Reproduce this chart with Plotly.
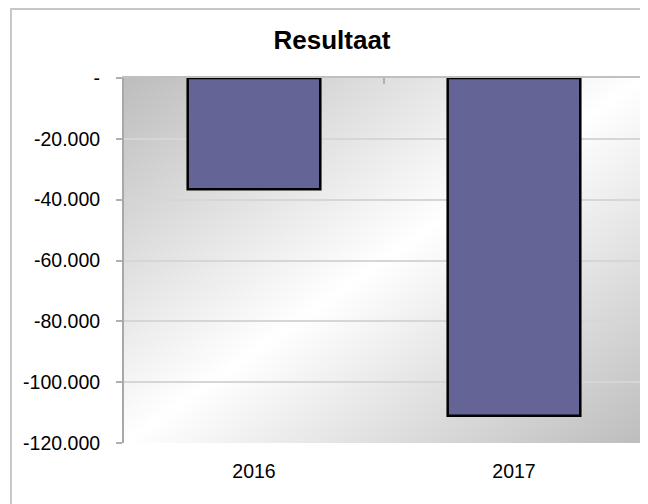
import base64
import plotly.graph_objects as go

categories = ["2016", "2017"]
resultaat = [-36600, -111000]
tick_values = [0, -20000, -40000, -60000, -80000, -100000, -120000]
tick_labels = ["-", "-20.000", "-40.000", "-60.000", "-80.000", "-100.000", "-120.000"]

FONT = "Arial, Liberation Sans, sans-serif"

svg = (
    '<svg xmlns="http://www.w3.org/2000/svg" width="520" height="366" preserveAspectRatio="none">'
    '<defs><linearGradient id="g" x1="0" y1="0" x2="1" y2="1">'
    '<stop offset="0" stop-color="#bdbdbd"/>'
    '<stop offset="0.5" stop-color="#ffffff"/>'
    '<stop offset="1" stop-color="#bdbdbd"/>'
    '</linearGradient></defs>'
    '<rect x="0" y="0" width="520" height="366" fill="url(#g)"/></svg>'
)
bg_src = "data:image/svg+xml;base64," + base64.b64encode(svg.encode()).decode()

# The page body has an 8px margin, so the figure is sized/offset to compensate.
OFF = 8
W, H = 648 - OFF, 504 - OFF
L, T = 124 - OFF, 78 - OFF
R = W - (644 - OFF)
B = H - (443 - OFF)
pw, ph = W - L - R, H - T - B


def px(x):  # page pixel x -> paper fraction
    return (x - OFF - L) / pw


def py(y):  # page pixel y -> paper fraction
    return (H - B - (y - OFF)) / ph


fig = go.Figure()
fig.add_trace(go.Bar(
    x=categories, y=resultaat,
    marker=dict(color="#646496", line=dict(color="#000000", width=2.5)),
    width=0.51,
    hoverinfo="x+y",
))
fig.add_trace(go.Scatter(x=[None], y=[None], xaxis="x2", showlegend=False, hoverinfo="skip"))

fig.update_layout(
    width=W, height=H,
    margin=dict(l=L, r=R, t=T, b=B),
    paper_bgcolor="white",
    plot_bgcolor="white",
    showlegend=False,
    title=dict(text="<b>Resultaat</b>", xref="container", x=(332 - OFF) / W,
               xanchor="center", yref="container",
               y=1 - (40 - OFF) / H, yanchor="middle",
               font=dict(family=FONT, size=26, color="black")),
    font=dict(family=FONT, size=19.5, color="black"),
    xaxis=dict(
        type="category", range=[-0.5, 1.5],
        showgrid=False, zeroline=False, showline=False,
        ticks="", tickfont=dict(size=19.5), ticklabelstandoff=14,
    ),
    xaxis2=dict(
        overlaying="x", side="top", range=[-0.5, 1.5],
        tickvals=[0.5], ticks="inside", ticklen=6, tickcolor="#b0b0b0", tickwidth=2,
        showticklabels=False, showline=True, linecolor="#c0c0c0", linewidth=2,
        showgrid=False, zeroline=False,
    ),
    yaxis=dict(
        range=[-120000, 0],
        tickvals=tick_values, ticktext=tick_labels,
        showgrid=True, gridcolor="#d6d6d6", gridwidth=2,
        zeroline=False,
        showline=True, linecolor="#a8a8a8", linewidth=2,
        ticks="outside", ticklen=6, tickcolor="#b0b0b0", tickwidth=2,
        tickfont=dict(size=19.5), ticklabelstandoff=12,
    ),
    images=[dict(source=bg_src, xref="paper", yref="paper", x=0, y=1,
                 sizex=1, sizey=1, sizing="stretch", layer="below",
                 xanchor="left", yanchor="top")],
    shapes=[dict(type="rect", xref="paper", yref="paper",
                 x0=px(11), x1=px(645), y0=py(530), y1=py(9),
                 line=dict(color="#c8c8c8", width=2), fillcolor="rgba(0,0,0,0)",
                 layer="above")],
    bargap=0.49,
)

fig.write_html("out.html")
